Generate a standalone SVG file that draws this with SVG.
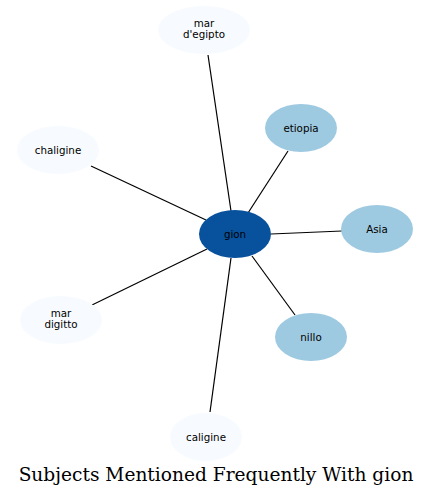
<svg xmlns="http://www.w3.org/2000/svg" width="432" height="497" viewBox="0 0 432 497">
<style>
.n text{font-family:"DejaVu Sans",sans-serif;font-size:10.3px;text-anchor:middle;fill:#000}
.l{fill:#f7fbff}
.m{fill:#9ecae1}
.d{fill:#08519c}
#edges line{stroke:#000;stroke-width:1.2}
.t{font-family:"DejaVu Serif",serif;font-size:18.6px;text-anchor:middle;fill:#000}
</style>
<rect width="432" height="497" fill="#fff"/>
<g id="edges">
<line x1="231" y1="211" x2="208" y2="55"/>
<line x1="248" y1="213" x2="288" y2="151"/>
<line x1="206" y1="220" x2="91" y2="166"/>
<line x1="271" y1="234" x2="342" y2="231"/>
<line x1="207" y1="249" x2="92" y2="305"/>
<line x1="252" y1="256" x2="295" y2="315"/>
<line x1="231" y1="258" x2="210" y2="412"/>
</g>
<g id="node-egipto" class="n"><ellipse class="l" cx="204" cy="30" rx="46" ry="24"/><text x="204" y="27">mar</text><text x="204" y="38">d'egipto</text></g>
<g id="node-etiopia" class="n"><ellipse class="m" cx="301" cy="128" rx="36" ry="24"/><text x="301" y="132">etiopia</text></g>
<g id="node-chaligine" class="n"><ellipse class="l" cx="58" cy="150" rx="41" ry="24"/><text x="58" y="154">chaligine</text></g>
<g id="node-gion" class="n"><ellipse class="d" cx="235" cy="234" rx="36" ry="24"/><text x="235" y="238">gion</text></g>
<g id="node-asia" class="n"><ellipse class="m" cx="377" cy="229" rx="36" ry="24"/><text x="377" y="233">Asia</text></g>
<g id="node-digitto" class="n"><ellipse class="l" cx="61" cy="320" rx="41" ry="24"/><text x="61" y="317">mar</text><text x="61" y="328">digitto</text></g>
<g id="node-nillo" class="n"><ellipse class="m" cx="311" cy="337" rx="36" ry="24"/><text x="311" y="341">nillo</text></g>
<g id="node-caligine" class="n"><ellipse class="l" cx="206" cy="437" rx="36" ry="24"/><text x="206" y="441">caligine</text></g>
<text class="t" x="216" y="481">Subjects Mentioned Frequently With gion</text>
</svg>
